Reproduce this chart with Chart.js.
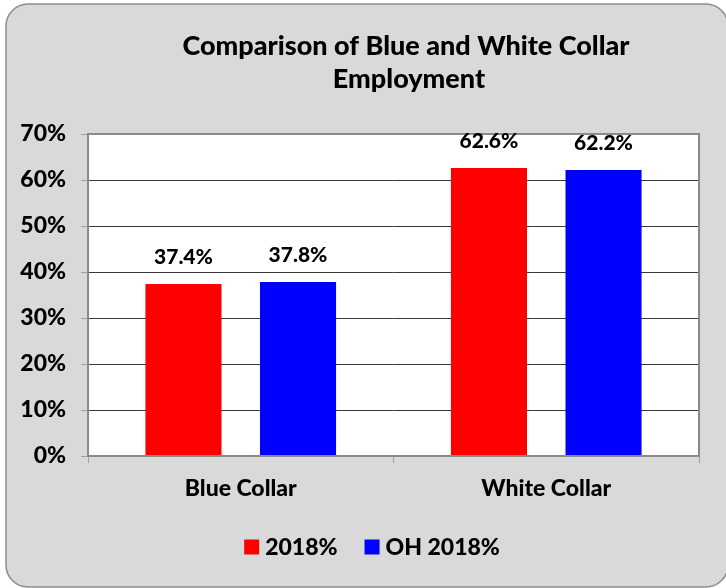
<!DOCTYPE html>
<html>
<head>
<meta charset="utf-8">
<script src="https://cdn.jsdelivr.net/npm/chart.js@4/dist/chart.umd.min.js"></script>
<style>
  html, body { margin: 0; padding: 0; background: #ffffff; }
  #wrap { position: relative; width: 726px; height: 588px; }
</style>
</head>
<body>
<div id="wrap"><canvas id="chart" width="726" height="588"></canvas></div>
<script>
// Employment shares (percent)
const categories = ['Blue Collar', 'White Collar'];
const series2018 = [37.4, 62.6];
const seriesOH2018 = [37.8, 62.2];
const seriesNames = ['2018%', 'OH 2018%'];
const seriesColors = ['#ff0000', '#0000ff'];
const titleLines = ['Comparison of Blue and White Collar', 'Employment'];
const yMax = 70;
const yStep = 10;

const FONT = 'Lato, "Open Sans", "DejaVu Sans", sans-serif';
const WEIGHT = '900';

// Panel background, title, custom legend and value labels
const panelPlugin = {
  id: 'panel',
  beforeDraw(chart) {
    const ctx = chart.ctx;
    ctx.save();
    ctx.fillStyle = '#d9d9d9';
    ctx.strokeStyle = '#8c8c8c';
    ctx.lineWidth = 1.5;
    ctx.beginPath();
    ctx.roundRect(6, 4, 722, 583, 22);
    ctx.fill();
    ctx.stroke();
    const a = chart.chartArea;
    ctx.fillStyle = '#ffffff';
    ctx.fillRect(a.left, a.top, a.right - a.left, a.bottom - a.top);
    ctx.restore();
  },
  afterDatasetsDraw(chart) {
    const ctx = chart.ctx;
    const a = chart.chartArea;
    ctx.save();
    // plot frame
    ctx.strokeStyle = '#8a8a8a';
    ctx.lineWidth = 2;
    ctx.strokeRect(a.left, a.top, a.right - a.left, a.bottom - a.top);

    // value labels above bars
    ctx.fillStyle = '#000000';
    ctx.font = WEIGHT + ' 21px ' + FONT;
    ctx.textAlign = 'center';
    ctx.textBaseline = 'alphabetic';
    chart.data.datasets.forEach((ds, i) => {
      chart.getDatasetMeta(i).data.forEach((bar, j) => {
        ctx.fillText(ds.data[j].toFixed(1) + '%', bar.x, bar.y - 20);
      });
    });

    // title
    ctx.font = WEIGHT + ' 27px ' + FONT;
    ctx.fillText(titleLines[0], 406, 55);
    ctx.fillText(titleLines[1], 409, 88);

    // legend
    ctx.font = WEIGHT + ' 23px ' + FONT;
    const box = 15, gap = 6, itemGap = 27;
    const widths = chart.data.datasets.map(ds => ctx.measureText(ds.label).width);
    let total = 0;
    widths.forEach((w, i) => { total += box + gap + w + (i < widths.length - 1 ? itemGap : 0); });
    let x = 372 - total / 2;
    const ly = 547;
    ctx.textAlign = 'left';
    ctx.textBaseline = 'middle';
    chart.data.datasets.forEach((ds, i) => {
      ctx.fillStyle = ds.backgroundColor;
      ctx.fillRect(x, ly - box / 2, box, box);
      ctx.fillStyle = '#000000';
      ctx.fillText(ds.label, x + box + gap, ly + 1);
      x += box + gap + widths[i] + itemGap;
    });
    ctx.restore();
  }
};

new Chart(document.getElementById('chart'), {
  type: 'bar',
  data: {
    labels: categories,
    datasets: [
      { label: seriesNames[0], data: series2018, backgroundColor: seriesColors[0] },
      { label: seriesNames[1], data: seriesOH2018, backgroundColor: seriesColors[1] }
    ]
  },
  options: {
    responsive: false,
    animation: false,
    events: [],
    layout: { padding: { top: 134, right: 27, bottom: 0, left: 0 } },
    datasets: { bar: { categoryPercentage: 0.75, barPercentage: 0.664 } },
    plugins: {
      legend: { display: false },
      title: { display: false },
      tooltip: { enabled: false }
    },
    scales: {
      x: {
        afterFit(scale) { scale.height = 132; },
        grid: { drawOnChartArea: false, drawTicks: true, tickLength: 7, color: '#a0a0a0', offset: true },
        border: { display: false },
        ticks: { color: '#000000', padding: 12, font: { family: FONT, size: 23, weight: WEIGHT } }
      },
      y: {
        min: 0,
        max: yMax,
        afterFit(scale) { scale.width = 88; },
        grid: {
          color: (c) => (c.tick && (c.tick.value === yMax || c.tick.value === 0)) ? '#8a8a8a' : '#3a3a3a',
          lineWidth: 1,
          tickLength: 7,
          tickColor: '#a0a0a0'
        },
        border: { display: false },
        ticks: {
          stepSize: yStep,
          color: '#000000',
          padding: 15,
          font: { family: FONT, size: 23, weight: WEIGHT },
          callback: (v) => v + '%'
        }
      }
    }
  },
  plugins: [panelPlugin]
});
</script>
</body>
</html>
